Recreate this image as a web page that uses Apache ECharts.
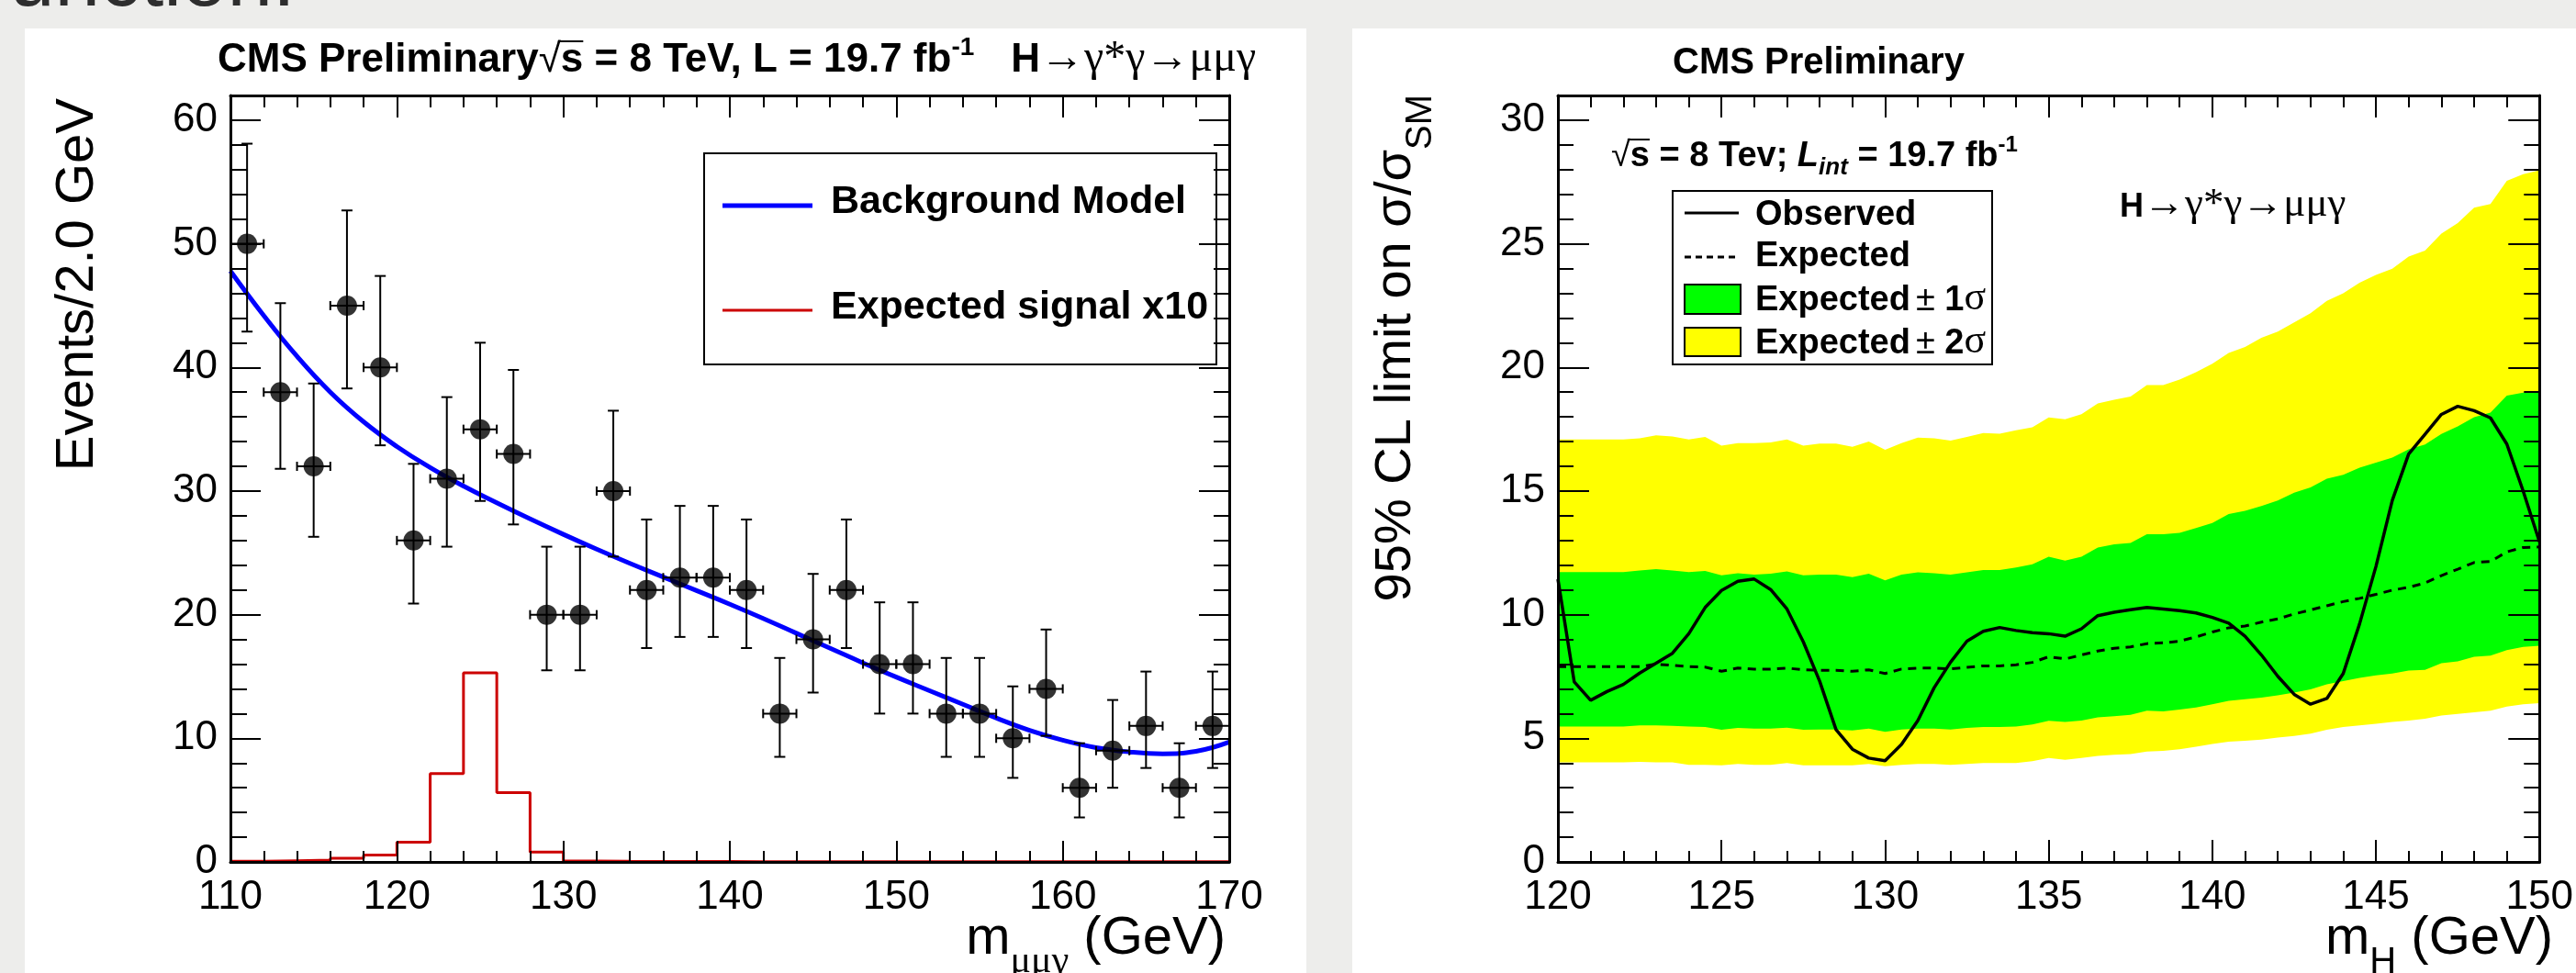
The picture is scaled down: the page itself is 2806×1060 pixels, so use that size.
<!DOCTYPE html>
<html><head><meta charset="utf-8">
<script src="https://cdn.jsdelivr.net/npm/echarts@6/dist/echarts.min.js"></script>
<style>html,body{margin:0;padding:0;background:#ededeb;}#c{width:2806px;height:1060px;}</style>
</head><body><div id="c"></div>
<script>
// ---------- Left panel data: m_mumugamma spectrum ----------
const binCenters = [111,113,115,117,119,121,123,125,127,129,131,133,135,137,139,141,143,145,147,149,151,153,155,157,159,161,163,165,167,169];
const counts     = [50,38,32,45,40,26,31,35,33,20,20,30,22,23,23,22,12,18,22,16,16,12,12,10,14,6,9,11,6,11];
const errLow     = [42.9,31.8,26.3,38.3,33.7,20.9,25.5,29.2,27.3,15.5,15.5,24.7,17.3,18.2,18.2,17.3,8.5,13.7,17.3,12.0,12.0,8.5,8.5,6.8,10.2,3.6,6.0,7.6,3.6,7.6];
const errHigh    = [58.1,45.2,38.7,52.7,47.4,32.2,37.6,42.0,39.8,25.5,25.5,36.5,27.7,28.8,28.8,27.7,16.5,23.3,27.7,21.0,21.0,16.5,16.5,14.2,18.8,9.6,13.1,15.4,9.6,15.4];
const HALF_BIN = 1; // 2 GeV bins
const bkgMass  = [110,112,114,116,118,120,122,124,126,128,130,132,134,136,138,140,142,144,146,148,150,152,154,156,158,160,162,164,166,168,170];
const bkgModel = [47.8,44.2,40.9,38.0,35.6,33.6,31.9,30.4,29.05,27.75,26.5,25.3,24.15,23.05,21.95,20.85,19.7,18.5,17.3,16.1,14.95,13.85,12.75,11.65,10.65,9.85,9.25,8.9,8.75,8.95,9.7];
const binEdges = [110,112,114,116,118,120,122,124,126,128,130,132,134,136,138,140,142,144,146,148,150,152,154,156,158,160,162,164,166,168,170];
const signalX10 = [0.05,0.1,0.15,0.3,0.55,1.6,7.15,15.3,5.6,0.8,0.08,0.05,0.04,0.03,0.03,0.02,0.02,0.02,0.02,0.02,0.02,0.02,0.02,0.02,0.02,0.02,0.02,0.02,0.02,0.02];

// ---------- Right panel data: 95% CL limits ----------
const massH = [120,120.5,121,121.5,122,122.5,123,123.5,124,124.5,125,125.5,126,126.5,127,127.5,128,128.5,129,129.5,130,130.5,131,131.5,132,132.5,133,133.5,134,134.5,135,135.5,136,136.5,137,137.5,138,138.5,139,139.5,140,140.5,141,141.5,142,142.5,143,143.5,144,144.5,145,145.5,146,146.5,147,147.5,148,148.5,149,149.5,150];
const observed = [11.44,7.28,6.54,6.89,7.18,7.64,8.04,8.44,9.23,10.29,10.98,11.35,11.44,11.02,10.23,8.9,7.31,5.35,4.56,4.2,4.09,4.75,5.72,7.05,8.08,8.93,9.33,9.48,9.36,9.27,9.23,9.13,9.43,9.96,10.1,10.2,10.29,10.23,10.16,10.07,9.89,9.66,9.13,8.37,7.51,6.78,6.38,6.61,7.62,9.63,11.95,14.62,16.5,17.3,18.1,18.43,18.25,17.96,16.9,15.0,12.94];
const expected = [7.9,7.9,7.9,7.9,7.9,7.9,8.0,7.95,7.9,7.88,7.71,7.84,7.8,7.8,7.84,7.77,7.75,7.75,7.71,7.77,7.62,7.8,7.84,7.84,7.81,7.87,7.93,7.93,7.97,8.07,8.3,8.21,8.37,8.53,8.64,8.7,8.83,8.86,8.93,9.1,9.3,9.47,9.54,9.7,9.83,10.03,10.19,10.36,10.53,10.66,10.82,10.99,11.11,11.28,11.58,11.84,12.11,12.15,12.54,12.72,12.74];
const up1 = [11.72,11.72,11.72,11.72,11.72,11.79,11.84,11.79,11.72,11.77,11.59,11.68,11.62,11.66,11.75,11.59,11.62,11.62,11.52,11.66,11.39,11.62,11.71,11.68,11.62,11.71,11.81,11.81,11.91,12.04,12.34,12.19,12.34,12.72,12.85,12.9,13.25,13.25,13.31,13.5,13.71,14.07,14.2,14.4,14.62,14.93,15.15,15.5,15.66,15.95,16.15,16.35,16.69,16.88,17.31,17.62,17.99,18.17,18.86,18.98,19.04];
const lo1 = [5.48,5.48,5.48,5.48,5.48,5.52,5.52,5.5,5.48,5.46,5.35,5.42,5.39,5.39,5.43,5.35,5.36,5.36,5.32,5.39,5.26,5.36,5.39,5.39,5.36,5.42,5.46,5.46,5.48,5.56,5.71,5.66,5.72,5.85,5.89,5.95,6.12,6.09,6.16,6.25,6.38,6.52,6.58,6.65,6.74,6.85,6.98,7.18,7.31,7.44,7.55,7.62,7.74,7.77,8.04,8.11,8.3,8.34,8.57,8.7,8.74];
const up2 = [17.09,17.09,17.09,17.09,17.09,17.13,17.25,17.21,17.09,17.19,16.84,16.94,16.94,16.97,17.09,16.84,16.92,16.92,16.79,17.0,16.67,16.94,17.16,17.13,17.04,17.19,17.35,17.32,17.46,17.58,17.98,17.9,18.11,18.54,18.69,18.82,19.29,19.29,19.51,19.81,20.15,20.59,20.83,21.2,21.45,21.82,22.19,22.69,23.0,23.43,23.74,23.99,24.48,24.73,25.41,25.84,26.46,26.61,27.55,27.82,27.97];
const lo2 = [4.03,4.03,4.03,4.03,4.03,4.05,4.03,4.03,3.93,3.93,3.91,3.96,3.93,3.93,4.0,3.91,3.91,3.91,3.91,3.96,3.87,3.93,3.96,3.96,3.93,3.96,4.0,4.0,4.0,4.07,4.2,4.13,4.2,4.29,4.33,4.36,4.46,4.49,4.56,4.66,4.77,4.86,4.9,4.95,5.03,5.1,5.19,5.35,5.46,5.52,5.59,5.66,5.72,5.79,5.92,5.99,6.05,6.12,6.28,6.38,6.42];

// ---------- helpers ----------
const SANS = "'Liberation Sans', Arial, Helvetica, sans-serif";
const SERIF = "'Liberation Serif', 'DejaVu Serif', serif";
const mctx = document.createElement('canvas').getContext('2d');
function fontStr(s) { return (s.it ? 'italic ' : '') + (s.b ? 'bold ' : '') + s.size + 'px ' + (s.fam || SANS); }
function run(x, base, segs, o) {
  o = o || {};
  let total = 0;
  segs.forEach(s => { total += (s.gap || 0); mctx.font = fontStr(s); total += mctx.measureText(s.t).width; });
  let cx = o.align === 'right' ? -total : 0;
  const ch = [];
  segs.forEach(s => {
    cx += (s.gap || 0);
    const f = fontStr(s); mctx.font = f;
    const w = mctx.measureText(s.t).width;
    const by = s.dy || 0;
    ch.push({type: 'text', z: 100, x: cx, y: by - 0.34 * s.size,
      style: {text: s.t, font: f, fill: s.color || '#000', textAlign: 'left', textVerticalAlign: 'middle', align: 'left', verticalAlign: 'middle'}});
    if (s.over) ch.push({type: 'line', z: 100, shape: {x1: cx - 3, y1: by - s.over, x2: cx + w, y2: by - s.over}, style: {stroke: '#000', lineWidth: 2}});
    cx += w;
  });
  return {type: 'group', x: x, y: base, rotation: o.rot || 0, z: 100, children: ch};
}
function ax(kind, gi, min, max, iv, pos, len, major, label) {
  return {type: 'value', gridIndex: gi, min: min, max: max, interval: iv, position: pos, z: 10, silent: true,
    axisLine: {show: major, onZero: false, lineStyle: {color: '#000', width: 3}},
    axisTick: {show: true, inside: true, length: len, lineStyle: {color: '#000', width: 2}},
    axisLabel: {show: label, color: '#000', fontFamily: SANS, fontSize: 44, margin: kind === 'x' ? 17 : 14,
      showMinLabel: true, showMaxLabel: kind === 'x'},
    splitLine: {show: false}, axisPointer: {show: false}};
}
function errRender(params, api) {
  const x = api.value(0), y = api.value(1), lo = api.value(2), hi = api.value(3);
  const t = api.coord([x, hi]), b = api.coord([x, lo]);
  const l = api.coord([x - HALF_BIN, y]), r = api.coord([x + HALF_BIN, y]);
  const st = {stroke: '#000', lineWidth: 2};
  const c = 6, h = 5;
  return {type: 'group', children: [
    {type: 'line', shape: {x1: t[0], y1: t[1], x2: b[0], y2: b[1]}, style: st},
    {type: 'line', shape: {x1: t[0] - c, y1: t[1], x2: t[0] + c, y2: t[1]}, style: st},
    {type: 'line', shape: {x1: b[0] - c, y1: b[1], x2: b[0] + c, y2: b[1]}, style: st},
    {type: 'line', shape: {x1: l[0], y1: l[1], x2: r[0], y2: r[1]}, style: st},
    {type: 'line', shape: {x1: l[0], y1: l[1] - h, x2: l[0], y2: l[1] + h}, style: st},
    {type: 'line', shape: {x1: r[0], y1: r[1] - h, x2: r[0], y2: r[1] + h}, style: st}
  ]};
}
const pairs = (xs, ys) => xs.map((v, i) => [v, ys[Math.min(i, ys.length - 1)]]);
const band = (ys, color) => ({type: 'line', xAxisIndex: 4, yAxisIndex: 4, data: pairs(massH, ys), symbol: 'none',
  lineStyle: {width: 0, opacity: 0}, areaStyle: {color: color, opacity: 1, origin: 'start'}, z: 2, silent: true});

const chart = echarts.init(document.getElementById('c'), null, {renderer: 'canvas'});
chart.setOption({
  backgroundColor: '#ededeb',
  animation: false,
  grid: [
    {left: 251, top: 104, width: 1088, height: 835},
    {left: 1697, top: 104, width: 1088, height: 835}
  ],
  xAxis: [
    ax('x', 0, 110, 170, 10, 'bottom', 23, true, true),
    ax('x', 0, 110, 170, 2, 'bottom', 12, false, false),
    ax('x', 0, 110, 170, 10, 'top', 24, true, false),
    ax('x', 0, 110, 170, 2, 'top', 13, false, false),
    ax('x', 1, 120, 150, 5, 'bottom', 24, true, true),
    ax('x', 1, 120, 150, 1, 'bottom', 12, false, false),
    ax('x', 1, 120, 150, 5, 'top', 24, true, false),
    ax('x', 1, 120, 150, 1, 'top', 13, false, false)
  ],
  yAxis: [
    ax('y', 0, 0, 62, 10, 'left', 33, true, true),
    ax('y', 0, 0, 62, 2, 'left', 18, false, false),
    ax('y', 0, 0, 62, 10, 'right', 33, true, false),
    ax('y', 0, 0, 62, 2, 'right', 17, false, false),
    ax('y', 1, 0, 31, 5, 'left', 34, true, true),
    ax('y', 1, 0, 31, 1, 'left', 17, false, false),
    ax('y', 1, 0, 31, 5, 'right', 34, true, false),
    ax('y', 1, 0, 31, 1, 'right', 17, false, false)
  ],
  series: [
    {name: 'Expected signal x10', type: 'line', xAxisIndex: 0, yAxisIndex: 0, step: 'end', symbol: 'none',
      data: pairs(binEdges, signalX10), lineStyle: {color: '#cc0000', width: 3}, z: 3, silent: true},
    {name: 'Background Model', type: 'line', xAxisIndex: 0, yAxisIndex: 0, smooth: 0.45, symbol: 'none',
      data: pairs(bkgMass, bkgModel), lineStyle: {color: '#0000ff', width: 5}, z: 4, silent: true},
    {name: 'Data errors', type: 'custom', xAxisIndex: 0, yAxisIndex: 0, renderItem: errRender,
      data: binCenters.map((c, i) => [c, counts[i], errLow[i], errHigh[i]]), encode: {x: 0, y: 1}, z: 5, silent: true},
    {name: 'Data', type: 'scatter', xAxisIndex: 0, yAxisIndex: 0, symbol: 'circle', symbolSize: 22,
      itemStyle: {color: '#000'}, data: pairs(binCenters, counts), z: 6, silent: true},
    Object.assign(band(up2, '#ffff00'), {name: 'Expected ± 2σ'}),
    Object.assign(band(up1, '#00ff00'), {name: 'Expected ± 1σ'}),
    Object.assign(band(lo1, '#ffff00'), {name: 'band low 1'}),
    Object.assign(band(lo2, '#ffffff'), {name: 'band low 2'}),
    {name: 'Expected', type: 'line', xAxisIndex: 4, yAxisIndex: 4, symbol: 'none', data: pairs(massH, expected),
      lineStyle: {color: '#000', width: 3, type: [9, 7]}, z: 4, silent: true},
    {name: 'Observed', type: 'line', xAxisIndex: 4, yAxisIndex: 4, symbol: 'none', data: pairs(massH, observed),
      lineStyle: {color: '#000', width: 3.5}, z: 5, silent: true}
  ],
  graphic: {elements: [
    {type: 'rect', z: -10, shape: {x: 27, y: 31, width: 1396, height: 1029}, style: {fill: '#ffffff'}},
    {type: 'rect', z: -10, shape: {x: 1473, y: 31, width: 1333, height: 1029}, style: {fill: '#ffffff'}},
    run(10, 12, [{t: 'unction.', size: 89, color: '#2e2e2e'}]),
    // left title
    run(237, 81, [
      {t: 'CMS Preliminary', b: 1, size: 44},
      {t: '√', size: 44},
      {t: 's', b: 1, size: 44, over: 36},
      {t: ' = 8 TeV, L = 19.7 fb', b: 1, size: 44},
      {t: '-1', b: 1, size: 28, dy: -19},
      {t: 'H', b: 1, size: 44, gap: 40},
      {t: '→γ*γ→μμγ', size: 48, fam: SERIF}
    ]),
    // left legend
    {type: 'rect', z: 99, shape: {x: 767, y: 167, width: 558, height: 230}, style: {fill: 'none', stroke: '#000', lineWidth: 2}},
    {type: 'line', z: 100, shape: {x1: 787, y1: 224, x2: 885, y2: 224}, style: {stroke: '#0000ff', lineWidth: 5}},
    run(905, 235, [{t: 'Background Model', b: 1, size: 43}]),
    {type: 'line', z: 100, shape: {x1: 787, y1: 338, x2: 885, y2: 338}, style: {stroke: '#cc0000', lineWidth: 3}},
    run(905, 350, [{t: 'Expected signal x10', b: 1, size: 43}]),
    // left axis titles
    run(105, 107, [{t: 'Events/2.0 GeV', size: 58}], {rot: Math.PI / 2, align: 'right'}),
    run(1335, 1043, [{t: 'm', size: 58}, {t: 'μμγ', size: 42, fam: SERIF, dy: 19}, {t: ' (GeV)', size: 58}], {align: 'right'}),
    // right title and labels
    run(1822, 83, [{t: 'CMS Preliminary', b: 1, size: 40}]),
    run(1755, 183, [
      {t: '√', size: 38},
      {t: 's', b: 1, size: 38, over: 31},
      {t: ' = 8 Tev; ', b: 1, size: 38},
      {t: 'L', b: 1, it: 1, size: 38},
      {t: 'int', b: 1, it: 1, size: 26, dy: 9},
      {t: ' = 19.7 fb', b: 1, size: 38},
      {t: '-1', b: 1, size: 24, dy: -16}
    ]),
    run(2309, 238, [{t: 'H', b: 1, size: 36}, {t: '→γ*γ→μμγ', size: 45, fam: SERIF}]),
    // right legend
    {type: 'rect', z: 99, shape: {x: 1822, y: 208, width: 348, height: 189}, style: {fill: '#ffffff', stroke: '#000', lineWidth: 2}},
    {type: 'line', z: 100, shape: {x1: 1835, y1: 232, x2: 1894, y2: 232}, style: {stroke: '#000', lineWidth: 3}},
    run(1912, 247, [{t: 'Observed', b: 1, size: 38}]),
    {type: 'line', z: 100, shape: {x1: 1835, y1: 280, x2: 1894, y2: 280}, style: {stroke: '#000', lineWidth: 3, lineDash: [7, 5]}},
    run(1912, 292, [{t: 'Expected', b: 1, size: 38}]),
    {type: 'rect', z: 100, shape: {x: 1835, y: 310, width: 61, height: 32}, style: {fill: '#00ff00', stroke: '#000', lineWidth: 2}},
    run(1912, 340, [{t: 'Expected', b: 1, size: 38}, {t: '±', size: 38, gap: 6}, {t: ' 1', b: 1, size: 38}, {t: 'σ', size: 44, fam: SERIF}]),
    {type: 'rect', z: 100, shape: {x: 1835, y: 357, width: 61, height: 31}, style: {fill: '#ffff00', stroke: '#000', lineWidth: 2}},
    run(1912, 387, [{t: 'Expected', b: 1, size: 38}, {t: '±', size: 38, gap: 6}, {t: ' 2', b: 1, size: 38}, {t: 'σ', size: 44, fam: SERIF}]),
    // right axis titles
    run(1540, 103, [{t: '95% CL limit on σ/σ', size: 56}, {t: 'SM', size: 40, dy: 22}], {rot: Math.PI / 2, align: 'right'}),
    run(2781, 1043, [{t: 'm', size: 58}, {t: 'H', size: 40, dy: 20}, {t: ' (GeV)', size: 58}], {align: 'right'})
  ]}
});
</script></body></html>
